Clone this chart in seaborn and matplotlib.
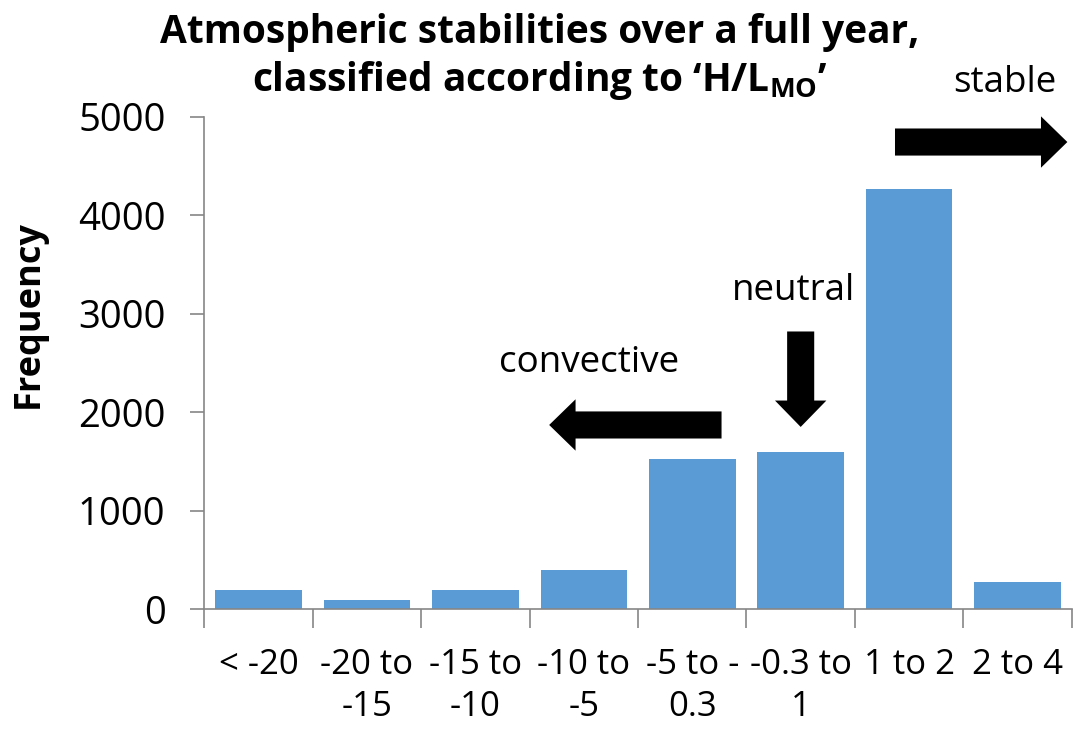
import matplotlib
matplotlib.use("Agg")
import matplotlib.pyplot as plt
import seaborn as sns
import pandas as pd

# Stability classes of H/L_MO and their yearly counts
categories = ["< -20", "-20 to\n-15", "-15 to\n-10", "-10 to\n-5",
              "-5 to -\n0.3", "-0.3 to\n1", "1 to 2", "2 to 4"]
frequency = [190, 90, 190, 400, 1525, 1595, 4270, 275]
y_ticks = [0, 1000, 2000, 3000, 4000, 5000]

sns.set_theme(style="white")
FONT = "Open Sans"
plt.rcParams["font.family"] = [FONT, "DejaVu Sans"]
plt.rcParams["mathtext.fontset"] = "custom"
plt.rcParams["mathtext.bf"] = FONT + ":bold"
plt.rcParams["mathtext.rm"] = FONT
plt.rcParams["text.color"] = "black"
plt.rcParams["axes.labelcolor"] = "black"

df = pd.DataFrame({"cls": categories, "freq": frequency})

fig = plt.figure(figsize=(10.76, 7.29), dpi=100)
ax = fig.add_axes([0.190, 0.1646, 0.806, 0.675])

sns.barplot(data=df, x="cls", y="freq", color="#5B9BD5", saturation=1,
            width=0.8, ax=ax, edgecolor="none")

ax.set_xlim(-0.5, len(categories) - 0.5)
ax.set_ylim(0, 5000)
ax.set_yticks(y_ticks)
ax.set_yticklabels([str(v) for v in y_ticks], fontsize=27.5)
ax.tick_params(axis="y", length=10, width=1.2, color="#868686", pad=18,
               left=True, labelcolor="black")
ax.set_xticks(range(len(categories)))
ax.set_xticklabels(categories, fontsize=25, linespacing=1.3)
ax.tick_params(axis="x", which="major", length=0, pad=28, labelcolor="black")
ax.set_xticks([i - 0.5 for i in range(len(categories) + 1)], minor=True)
ax.tick_params(axis="x", which="minor", length=14, width=1.2,
               color="#868686", bottom=True)

for side in ["top", "right"]:
    ax.spines[side].set_visible(False)
for side in ["left", "bottom"]:
    ax.spines[side].set_color("#868686")
    ax.spines[side].set_linewidth(1.2)

ax.set_xlabel("")
ax.set_ylabel("Frequency", fontsize=26, fontweight="bold")
ax.yaxis.set_label_coords(-0.182, 0.6)

fig.text(0.502, 0.982,
         "Atmospheric stabilities over a full year,\n"
         "classified according to \u2018H/L$_{\\mathbf{MO}}$\u2019",
         ha="center", va="top", fontsize=28, fontweight="bold",
         linespacing=1.2)

# Regime arrows and labels
arrow_style = "simple,head_length=1.9,head_width=3.7,tail_width=1.95"
arrows = [((4.27, 1870), (2.68, 1870)),   # convective
          ((5.00, 2820), (5.00, 1850)),   # neutral
          ((5.87, 4745), (7.46, 4745))]   # stable
for tail, tip in arrows:
    ax.annotate("", xy=tip, xytext=tail, annotation_clip=False,
                arrowprops=dict(arrowstyle=arrow_style, color="black",
                                mutation_scale=10, shrinkA=0, shrinkB=0,
                                lw=0))

ax.text(3.05, 2500, "convective", fontsize=26.5, ha="center", va="center")
ax.text(4.93, 3230, "neutral", fontsize=26.5, ha="center", va="center")
ax.text(6.88, 5345, "stable", fontsize=26.5, ha="center", va="center",
        clip_on=False)

fig.savefig("out.png", dpi=100)
